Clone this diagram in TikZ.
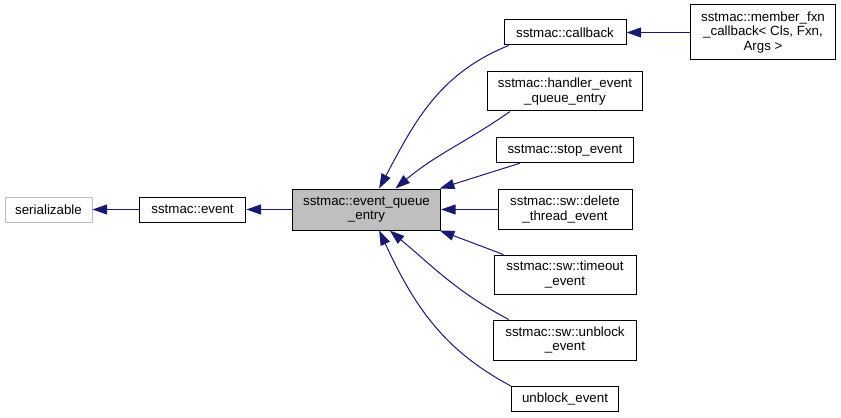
\documentclass[tikz,border=0pt]{standalone}
\usepackage{fontspec}
\setmainfont{Liberation Sans}
\usepackage{tikz}
\usetikzlibrary{arrows.meta}
\usepackage{xcolor}
\definecolor{navy}{HTML}{191970}

\begin{document}
\begin{tikzpicture}[x=0.75pt,y=-0.75pt,font=\fontsize{10}{11}\selectfont,
  cls/.style={draw=black,line width=0.75pt,inner sep=0pt,align=center,minimum height=18.75pt},
  ext/.style={cls,draw=black!25},
  cur/.style={cls,fill=black!25},
  inherit/.style={draw=navy,line width=0.75pt,{Triangle[length=11pt,width=7.5pt,navy]}-}]
\useasboundingbox (0,0) rectangle (841,417);
\node[ext,minimum width=65.25pt] (serial) at (48.5,209.5) {serializable};
\node[cls,minimum width=80pt] (event) at (192.5,209.5) {sstmac::event};
\node[cur,minimum width=111pt,minimum height=30.75pt] (eqe) at (366.5,209.5) {sstmac::event\_queue\\\_entry};
\node[cls,minimum width=91.5pt] (callback) at (565,32.5) {sstmac::callback};
\node[cls,minimum width=108.75pt,minimum height=41.25pt] (member) at (763,32.5) {sstmac::member\_fxn\\\_callback< Cls, Fxn,\\Args >};
\node[cls,minimum width=116.25pt,minimum height=29.25pt] (handler) at (565,91.5) {sstmac::handler\_event\\\_queue\_entry};
\node[cls,minimum width=102.75pt] (stop) at (565,150.3) {sstmac::stop\_event};
\node[cls,minimum width=100.5pt,minimum height=30pt] (delete) at (565,209.5) {sstmac::sw::delete\\\_thread\_event};
\node[cls,minimum width=106.5pt,minimum height=29.25pt] (timeout) at (565,274.5) {sstmac::sw::timeout\\\_event};
\node[cls,minimum width=107.25pt,minimum height=30pt] (swunblock) at (565,340) {sstmac::sw::unblock\\\_event};
\node[cls,minimum width=80.25pt] (unblock) at (565,398.5) {unblock\_event};
% inheritance arrows
\draw[inherit] (serial) -- (event);
\draw[inherit] (event) -- (eqe);
\draw[inherit] (callback) -- (member);
\draw[inherit] (eqe.59) to[out=62,in=202] (callback.193);
\draw[inherit] (eqe.36) to[out=40,in=215] (handler.200);
\draw[inherit] (eqe.16) -- (stop.196);
\draw[inherit] (eqe) -- (delete);
\draw[inherit] (eqe.-16) -- (timeout.162);
\draw[inherit] (eqe.-42) to[out=-40,in=152] (swunblock.160);
\draw[inherit] (eqe.-59) to[out=-65,in=152] (unblock.167);
\end{tikzpicture}
\end{document}
